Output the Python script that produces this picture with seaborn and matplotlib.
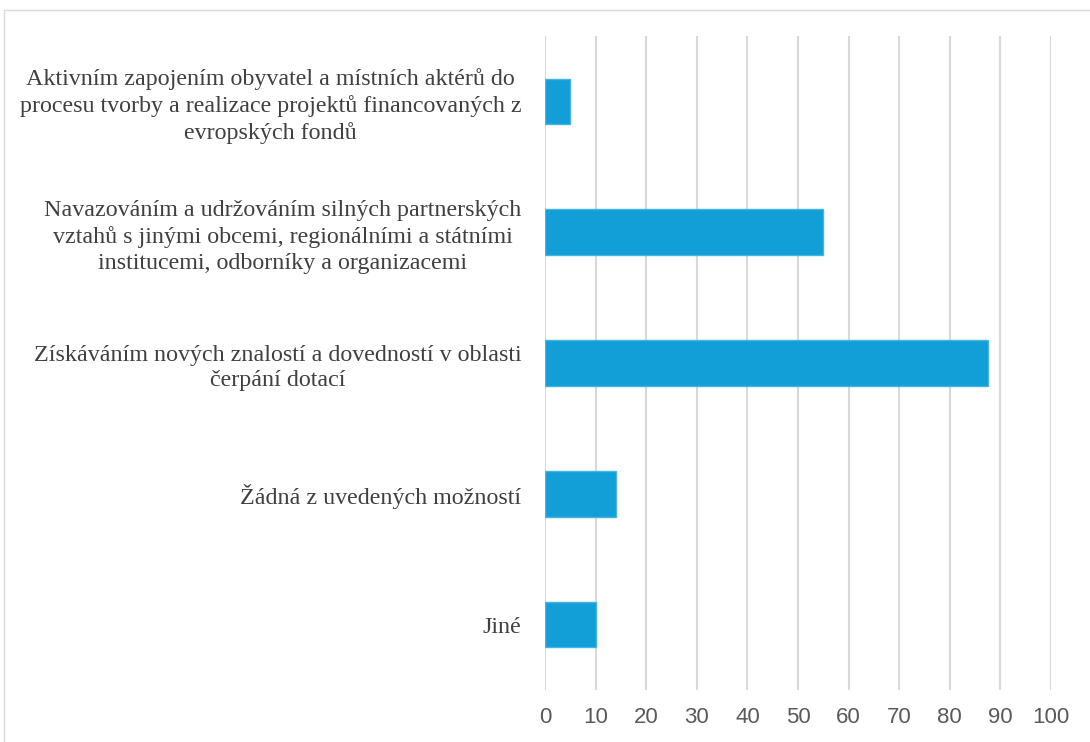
import matplotlib
matplotlib.use("Agg")
import matplotlib.pyplot as plt
import seaborn as sns
import pandas as pd
from matplotlib.patches import Rectangle

# Data
categories = [
    "Aktivním zapojením obyvatel a místních aktérů do\nprocesu tvorby a realizace projektů financovaných z\nevropských fondů",
    "Navazováním a udržováním silných partnerských\nvztahů s jinými obcemi, regionálními a státními\ninstitucemi, odborníky a organizacemi",
    "Získáváním nových znalostí a dovedností v oblasti\nčerpání dotací",
    "Žádná z uvedených možností",
    "Jiné",
]
values = [5, 55, 87.5, 14, 10]
x_ticks = [0, 10, 20, 30, 40, 50, 60, 70, 80, 90, 100]

df = pd.DataFrame({"category": categories, "value": values})

sns.set_theme(style="white")

fig = plt.figure(figsize=(10.9, 7.42), dpi=100)
ax = fig.add_axes([545 / 1090, 1 - 690 / 742, (1051 - 545) / 1090, (690 - 36) / 742])

sns.barplot(data=df, y="category", x="value", orient="h", color="#129ED6",
            saturation=1, width=0.35, edgecolor="#45B4E2", linewidth=1,
            ax=ax, zorder=3)

ax.set_xlim(0, 100)
ax.set_ylim(4.5, -0.5)
ax.set_xticks(x_ticks)
ax.set_xticklabels([str(t) for t in x_ticks], fontsize=16, color="#595959",
                   family=["Liberation Sans", "DejaVu Sans"])
ax.set_yticks(range(len(categories)))
ax.set_yticklabels(categories, fontsize=17.3, color="#404040",
                   family=["Liberation Serif", "DejaVu Serif"],
                   multialignment="center", linespacing=1.3)
ax.tick_params(axis="x", length=0, pad=12)
ax.tick_params(axis="y", length=0, pad=17)
ax.xaxis.grid(True, color="#d9d9d9", linewidth=1.5, zorder=0)
ax.yaxis.grid(False)
for s in ax.spines.values():
    s.set_visible(False)
ax.set_xlabel("")
ax.set_ylabel("")

# thin chart-area border
fig.patches.append(Rectangle((4 / 1090, -0.01), 1.01, 1 - 10 / 742 + 0.01,
                             transform=fig.transFigure, fill=False,
                             edgecolor="#d9d9d9", linewidth=1, clip_on=False))

fig.savefig("out.png", dpi=100, facecolor="white")
